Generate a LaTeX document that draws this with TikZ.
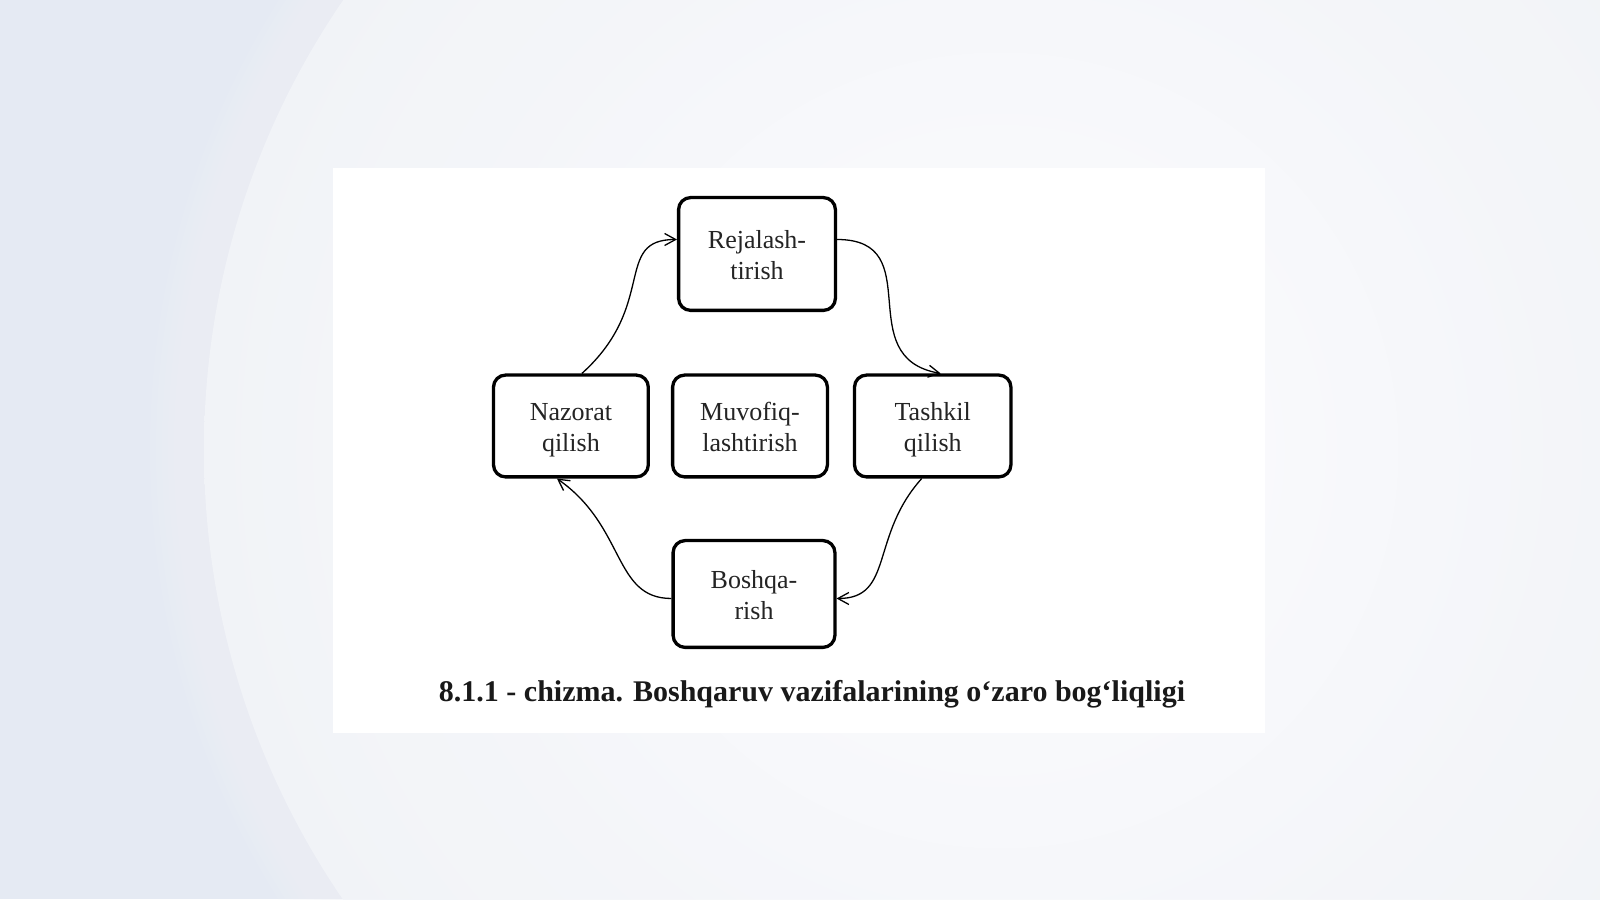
\documentclass[tikz,border=0pt]{standalone}
\usepackage{fontspec}
\setmainfont{Liberation Serif}
\usetikzlibrary{positioning, arrows.meta, calc}
\definecolor{bgbase}{RGB}{229,234,243}
\definecolor{bglight}{RGB}{242,244,248}
\definecolor{inktext}{RGB}{36,36,36}
\tikzset{main node/.style={rectangle, draw, rounded corners=6pt, line width=1.65pt, align=center, text=inktext, font=\fontsize{13}{15.5}\selectfont, inner sep=0pt, minimum width=77.4pt, minimum height=50.9pt, text height=28.5pt, text depth=3pt},}

\begin{document}
\begin{tikzpicture}[>={Straight Barb[length=5.5pt,width=6pt]}, line width=0.65pt]
			% Background and card
			\useasboundingbox (0,0) rectangle (800pt,449.5pt);
			\fill[bgbase] (0,0) rectangle (800pt,449.5pt);
			\begin{scope}
				\clip (0,0) rectangle (800pt,449.5pt);
				\foreach \k in {0,...,9}
					\fill[bglight, opacity=0.12] (500pt,224.5pt) circle (398pt+\k*3pt);
				\shade[inner color=white, outer color=bglight, opacity=0.9] (500pt,224.5pt) circle (398pt);
			\end{scope}
			\fill[white] (166.4pt,83.2pt) rectangle (632.7pt,365.3pt);

			% Boxes
			\node[main node] (muv) at (375pt,236.5pt) {Muvofiq-\\lashtirish};
			\node[main node] [left = 10.5pt of muv] (naz) {Nazorat\\qilish};
			\node[main node, minimum width=78.2pt] [right = 11.9pt of muv] (tash) {Tashkil\\qilish};
			\node[main node, minimum width=78.4pt, minimum height=56.4pt] [above = 30.7pt of muv, xshift=3.5pt] (rej) {Rejalash-\\tirish};
			\node[main node, minimum width=80.9pt, minimum height=53.4pt] [below = 30.2pt of muv, xshift=2pt] (bosh) {Boshqa-\\rish};

			% Caption
			\node[anchor=base, font=\fontsize{15}{18}\selectfont\bfseries, text=black!90] (cap) at (406pt,98.5pt) {8.1.1 - chizma. Boshqaruv vazifalarining o‘zaro bog‘liqligi};

			% Cycle
			\path[->]
			([xshift=5.5pt]naz.north) edge [out=42, in=180, out looseness=1.6, in looseness=1] ([yshift=7.25pt]rej.west)
			([yshift=7.25pt]rej.east) edge [out=0, in=170, looseness=1.4] ([xshift=4pt]tash.north)
			([xshift=-5.5pt]tash.south) edge [out=228, in=0, out looseness=1.35, in looseness=1] ([yshift=-2.25pt]bosh.east)
			([yshift=-2.25pt]bosh.west) edge [out=180, in=-35, out looseness=0.9, in looseness=1.3] ([xshift=-7pt]naz.south);
		\end{tikzpicture}
\end{document}
